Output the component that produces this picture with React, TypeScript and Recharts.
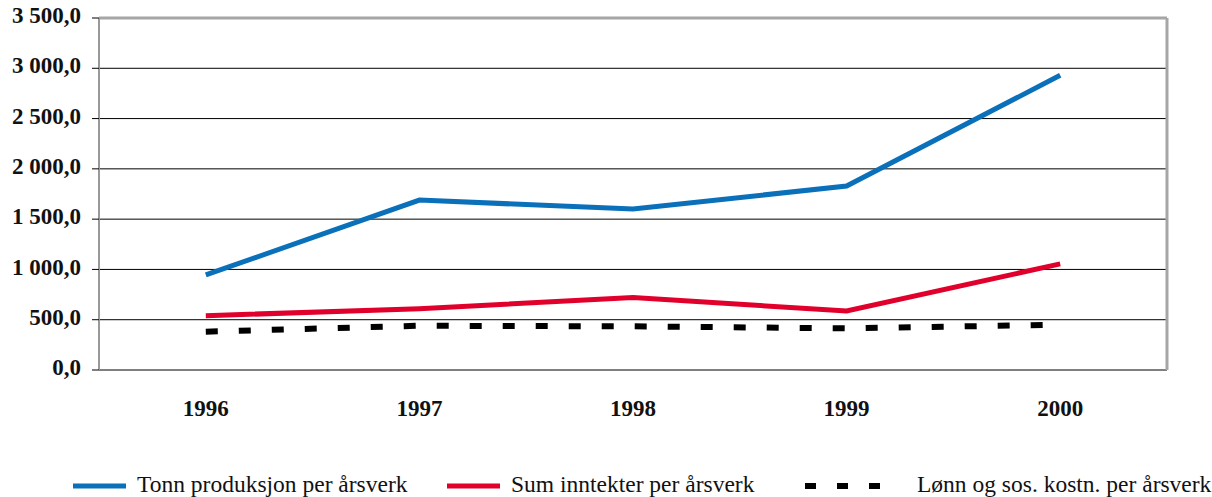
import React from "react";
import {
  LineChart, Line, XAxis, YAxis, CartesianGrid, ReferenceLine, Legend,
} from "recharts";

const years = ["1996", "1997", "1998", "1999", "2000"];
const tonnPerArsverk = [945, 1690, 1600, 1830, 2930];
const inntekterPerArsverk = [540, 609, 722, 586, 1055];
const lonnPerArsverk = [381, 440, 434, 414, 450];
const yTicks = [0, 500, 1000, 1500, 2000, 2500, 3000, 3500];
const bandEdges = [-0.5, 0.5, 1.5, 2.5, 3.5, 4.5];

const seriesNames = [
  "Tonn produksjon per årsverk",
  "Sum inntekter per årsverk",
  "Lønn og sos. kostn. per årsverk",
];

const data = years.map((y, i) => ({
  x: i,
  year: y,
  tonn: tonnPerArsverk[i],
  inntekter: inntekterPerArsverk[i],
  lonn: lonnPerArsverk[i],
}));

const SERIF = "Liberation Serif";
const BLUE = "#0B70BA";
const RED = "#E0002B";

function fmt(v: number) {
  const [int, dec] = v.toFixed(1).split(".");
  return int.replace(/\B(?=(\d{3})+(?!\d))/g, " ") + "," + dec;
}

function LegendBox() {
  const text: React.CSSProperties = {
    position: "absolute", top: 41, fontFamily: SERIF, fontSize: 23.5, color: "#111",
    whiteSpace: "nowrap", lineHeight: "27px",
  };
  return (
    <div style={{ position: "relative", width: 1212, height: 67 }}>
      <svg width={1212} height={67} style={{ position: "absolute", left: 0, top: 0 }}>
        <line x1={73} x2={126} y1={56} y2={56} stroke={BLUE} strokeWidth={5} />
        <line x1={447} x2={500} y1={56} y2={56} stroke={RED} strokeWidth={5} />
        <line x1={805} x2={885} y1={56} y2={56} stroke="#000" strokeWidth={6} strokeDasharray="11 21" />
      </svg>
      <span style={{ ...text, left: 137 }}>{seriesNames[0]}</span>
      <span style={{ ...text, left: 511 }}>{seriesNames[1]}</span>
      <span style={{ ...text, left: 917 }}>{seriesNames[2]}</span>
    </div>
  );
}

export default function App() {
  return (
    <div style={{ position: "absolute", left: 0, top: 0, background: "#fff" }}>
      <LineChart width={1212} height={497} data={data} margin={{ top: 18, right: 45, left: 0, bottom: 0 }}>
        <CartesianGrid vertical={false} stroke="#000" strokeWidth={1} />
        <XAxis
          xAxisId="edges"
          type="number"
          dataKey="x"
          domain={[-0.5, 4.5]}
          ticks={bandEdges}
          allowDataOverflow
          tick={false}
          tickSize={6}
          tickLine={{ stroke: "#555" }}
          axisLine={{ stroke: "#000", strokeWidth: 2 }}
          height={0}
        />
        <XAxis
          type="number"
          dataKey="x"
          domain={[-0.5, 4.5]}
          ticks={[0, 1, 2, 3, 4]}
          tickFormatter={(v: number) => years[v]}
          tickLine={false}
          axisLine={false}
          tickMargin={24}
          height={60}
          tick={{ fontFamily: SERIF, fontSize: 23, fontWeight: 700, fill: "#111" }}
        />
        <YAxis
          domain={[0, 3500]}
          ticks={yTicks}
          tickFormatter={fmt}
          width={99}
          tickSize={7}
          tickMargin={11}
          tickLine={{ stroke: "#000" }}
          axisLine={{ stroke: "#999", strokeWidth: 2 }}
          tick={{ fontFamily: SERIF, fontSize: 23, fontWeight: 700, fill: "#111", dy: -3 }}
        />
        <ReferenceLine y={3500} stroke="#a6a6a6" strokeWidth={3} />
        <ReferenceLine x={4.5} stroke="#a6a6a6" strokeWidth={3} />
        <Legend verticalAlign="bottom" content={() => <LegendBox />} />
        <Line type="linear" dataKey="tonn" name={seriesNames[0]} stroke={BLUE} strokeWidth={5} dot={false} isAnimationActive={false} />
        <Line type="linear" dataKey="inntekter" name={seriesNames[1]} stroke={RED} strokeWidth={5} dot={false} isAnimationActive={false} />
        <Line type="linear" dataKey="lonn" name={seriesNames[2]} stroke="#000" strokeWidth={6} strokeDasharray="12 21" dot={false} isAnimationActive={false} />
      </LineChart>
    </div>
  );
}
